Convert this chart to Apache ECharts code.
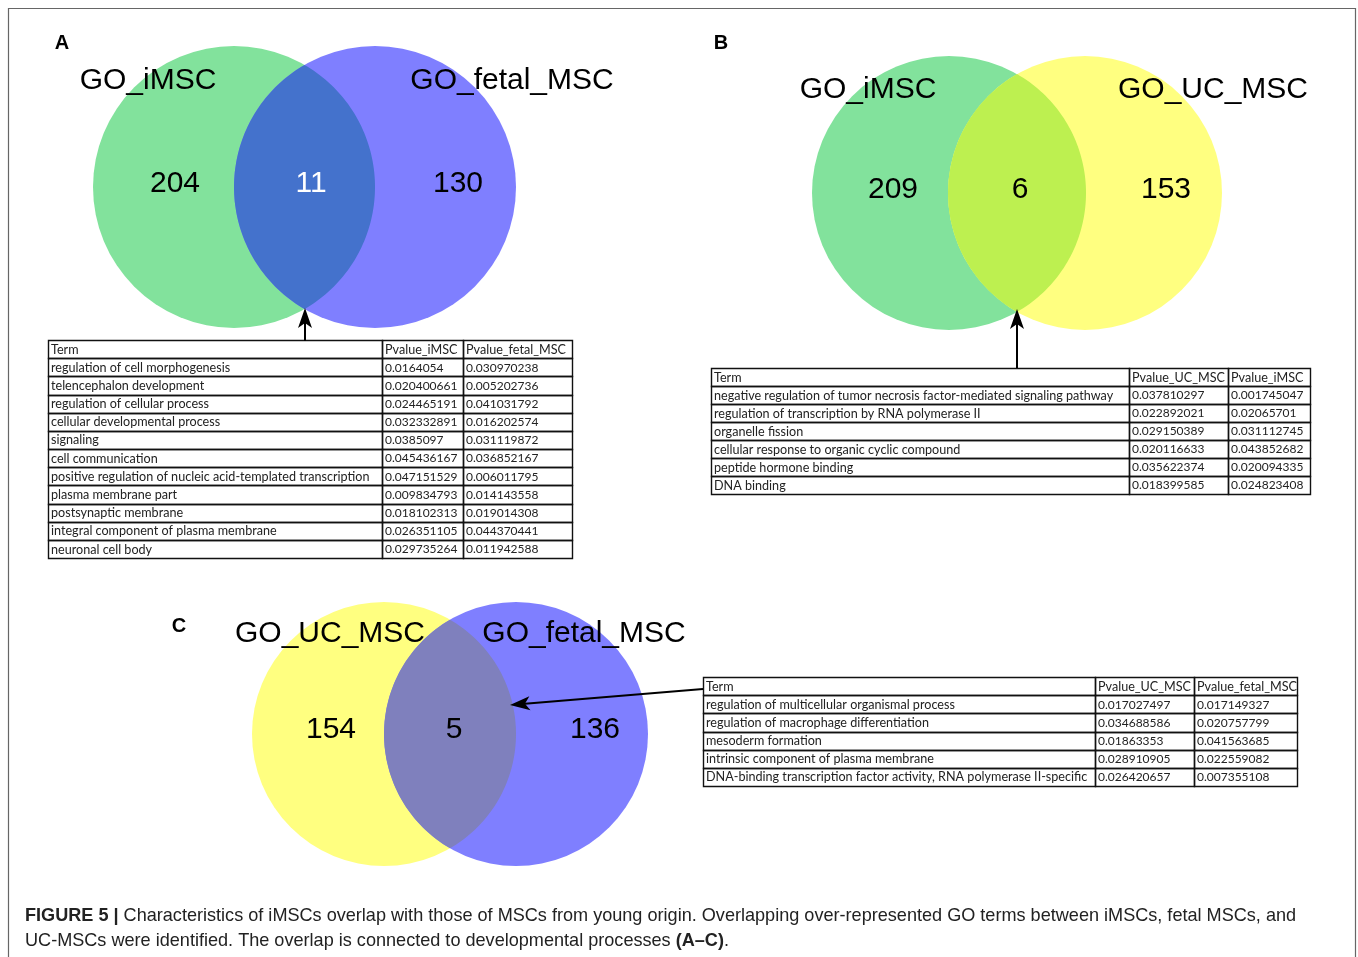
<!DOCTYPE html>
<html><head><meta charset="utf-8">
<script src="https://cdn.jsdelivr.net/npm/echarts@6/dist/echarts.min.js"></script>
<style>html,body{margin:0;padding:0;background:#fff}#c{width:1358px;height:957px}</style>
</head><body><div id="c"></div>
<script>
// ---------------- DATA ----------------
const setNamesA = ['GO_iMSC', 'GO_fetal_MSC'];
const countsA = [204, 11, 130];          // left only, overlap, right only
const setNamesB = ['GO_iMSC', 'GO_UC_MSC'];
const countsB = [209, 6, 153];
const setNamesC = ['GO_UC_MSC', 'GO_fetal_MSC'];
const countsC = [154, 5, 136];

const headerA = ['Term', 'Pvalue_iMSC', 'Pvalue_fetal_MSC'];
const termsA = ['regulation of cell morphogenesis', 'telencephalon development', 'regulation of cellular process',
  'cellular developmental process', 'signaling', 'cell communication',
  'positive regulation of nucleic acid-templated transcription', 'plasma membrane part',
  'postsynaptic membrane', 'integral component of plasma membrane', 'neuronal cell body'];
const pIMSC_A = [0.0164054, 0.020400661, 0.024465191, 0.032332891, 0.0385097, 0.045436167,
  0.047151529, 0.009834793, 0.018102313, 0.026351105, 0.029735264];
const pFetal_A = [0.030970238, 0.005202736, 0.041031792, 0.016202574, 0.031119872, 0.036852167,
  0.006011795, 0.014143558, 0.019014308, 0.044370441, 0.011942588];

const headerB = ['Term', 'Pvalue_UC_MSC', 'Pvalue_iMSC'];
const termsB = ['negative regulation of tumor necrosis factor-mediated signaling pathway',
  'regulation of transcription by RNA polymerase II', 'organelle fission',
  'cellular response to organic cyclic compound', 'peptide hormone binding', 'DNA binding'];
const pUC_B = [0.037810297, 0.022892021, 0.029150389, 0.020116633, 0.035622374, 0.018399585];
const pIMSC_B = [0.001745047, 0.02065701, 0.031112745, 0.043852682, 0.020094335, 0.024823408];

const headerC = ['Term', 'Pvalue_UC_MSC', 'Pvalue_fetal_MSC'];
const termsC = ['regulation of multicellular organismal process', 'regulation of macrophage differentiation',
  'mesoderm formation', 'intrinsic component of plasma membrane',
  'DNA-binding transcription factor activity, RNA polymerase II-specific'];
const pUC_C = [0.017027497, 0.034688586, 0.01863353, 0.028910905, 0.026420657];
const pFetal_C = [0.017149327, 0.020757799, 0.041563685, 0.022559082, 0.007355108];

// ---------------- LAYOUT / STYLE ----------------
const W = 1358, H = 957;
const SANS = '"Liberation Sans", Arial, sans-serif';
const TFONT = '12.6px Lato, "Liberation Sans", sans-serif';
const NFONT = '12px Lato, "Liberation Sans", sans-serif';
const GREEN = '#82e29c', BLUE = '#7f7fff', YELLOW = '#ffff80';

const panels = [
  { letter: 'A', letterXY: [62, 43], names: setNamesA, counts: countsA,
    fills: [GREEN, BLUE, '#4472cc'], countFill: ['#000', '#fff', '#000'],
    c1: [234, 187], c2: [375, 187], r: 141,
    nameXY: [[148, 81], [512, 81]], countXY: [[175, 184], [311, 184], [458, 184]],
    arrow: [[305, 341], [305, 308]] },
  { letter: 'B', letterXY: [721, 43], names: setNamesB, counts: countsB,
    fills: [GREEN, YELLOW, '#bdf050'], countFill: ['#000', '#000', '#000'],
    c1: [949, 193], c2: [1085, 193], r: 137,
    nameXY: [[868, 90], [1213, 90]], countXY: [[893, 190], [1020, 190], [1166, 190]],
    arrow: [[1017, 368], [1017, 309]] },
  { letter: 'C', letterXY: [179, 626], names: setNamesC, counts: countsC,
    fills: [YELLOW, BLUE, '#7f80bd'], countFill: ['#000', '#000', '#000'],
    c1: [384, 734], c2: [516, 734], r: 132,
    nameXY: [[330, 634], [584, 634]], countXY: [[331, 730], [454, 730], [595, 730]],
    arrow: [[703, 689], [510, 705]] }
];

function rowsOf(header, terms, a, b) {
  return [header].concat(terms.map((t, i) => [t, String(a[i]), String(b[i])]));
}
const tables = [
  { rows: rowsOf(headerA, termsA, pIMSC_A, pFetal_A), x: 48, y: 340, colW: [334, 81, 109], rowH: 18.17 },
  { rows: rowsOf(headerB, termsB, pUC_B, pIMSC_B), x: 711, y: 368, colW: [418, 99, 82], rowH: 18 },
  { rows: rowsOf(headerC, termsC, pUC_C, pFetal_C), x: 703, y: 677, colW: [392, 99, 103], rowH: 18.17 }
];

// ---------------- RENDERERS ----------------
function vennRender(p) {
  return function (params, api) {
    const i = params.dataIndex;
    const val = api.value(1);
    const P = (pt) => api.coord(pt);
    const c1 = P(p.c1), c2 = P(p.c2);
    const rpx = P([p.c1[0] + p.r, p.c1[1]])[0] - c1[0];
    const kids = [];
    if (i === 0 || i === 2) {
      const c = i === 0 ? c1 : c2;
      const k = i === 0 ? 0 : 1;
      kids.push({ type: 'circle', z2: 1 + k, shape: { cx: c[0], cy: c[1], r: rpx },
        style: { fill: p.fills[k] } });
      const nm = P(p.nameXY[k]);
      kids.push({ type: 'text', z2: 10, x: nm[0], y: nm[1],
        style: { text: p.names[k], font: '30px ' + SANS, fill: '#000', align: 'center', verticalAlign: 'middle' } });
    }
    if (i === 0) {
      const lt = P(p.letterXY);
      kids.push({ type: 'text', z2: 10, x: lt[0], y: lt[1],
        style: { text: p.letter, font: 'bold 20px ' + SANS, fill: '#000', align: 'center', verticalAlign: 'middle' } });
    }
    if (i === 1) {
      const d = c2[0] - c1[0];
      const h = Math.sqrt(rpx * rpx - (d / 2) * (d / 2));
      const a = Math.atan2(h, d / 2);
      const pts = [];
      const N = 80;
      for (let j = 0; j <= N; j++) {
        const t = (Math.PI + a) - (2 * a) * j / N;
        pts.push([c2[0] + rpx * Math.cos(t), c2[1] - rpx * Math.sin(t)]);
      }
      for (let j = 0; j <= N; j++) {
        const t = -a + (2 * a) * j / N;
        pts.push([c1[0] + rpx * Math.cos(t), c1[1] - rpx * Math.sin(t)]);
      }
      kids.push({ type: 'polygon', z2: 3, shape: { points: pts }, style: { fill: p.fills[2] } });
      const s = P(p.arrow[0]), e = P(p.arrow[1]);
      const dx = e[0] - s[0], dy = e[1] - s[1];
      const L = Math.hypot(dx, dy), ux = dx / L, uy = dy / L, nx = -uy, ny = ux;
      const HL = 20, HW = 7, NOTCH = 15;
      const notch = [e[0] - ux * NOTCH, e[1] - uy * NOTCH];
      kids.push({ type: 'line', z2: 11, shape: { x1: s[0], y1: s[1], x2: notch[0], y2: notch[1] },
        style: { stroke: '#000', lineWidth: 2 } });
      kids.push({ type: 'polygon', z2: 11, shape: { points: [
        e, [e[0] - ux * HL + nx * HW, e[1] - uy * HL + ny * HW], notch,
        [e[0] - ux * HL - nx * HW, e[1] - uy * HL - ny * HW]] }, style: { fill: '#000' } });
    }
    const cp = P(p.countXY[i]);
    kids.push({ type: 'text', z2: 10, x: cp[0], y: cp[1],
      style: { text: String(val), font: '30px ' + SANS, fill: p.countFill[i], align: 'center', verticalAlign: 'middle' } });
    return { type: 'group', children: kids };
  };
}

function tableRender(tb) {
  return function (params, api) {
    const i = params.dataIndex;
    const row = tb.rows[i];
    const kids = [];
    let x = tb.x;
    const y = tb.y + i * tb.rowH;
    for (let j = 0; j < row.length; j++) {
      const tl = api.coord([x, y]);
      const br = api.coord([x + tb.colW[j], y + tb.rowH]);
      kids.push({ type: 'rect', z2: 1, shape: { x: Math.round(tl[0]) + 0.5, y: Math.round(tl[1]) + 0.5,
          width: Math.round(br[0]) - Math.round(tl[0]), height: Math.round(br[1]) - Math.round(tl[1]) },
        style: { fill: null, stroke: '#111', lineWidth: 1.4 } });
      kids.push({ type: 'text', z2: 2, x: tl[0] + 3, y: (tl[1] + br[1]) / 2 + 0.5,
        style: { text: row[j], font: (i > 0 && j > 0) ? NFONT : TFONT, fill: '#222', align: 'left', verticalAlign: 'middle' } });
      x += tb.colW[j];
    }
    return { type: 'group', children: kids };
  };
}

const series = [];
panels.forEach((p) => {
  series.push({ type: 'custom', coordinateSystem: 'cartesian2d', renderItem: vennRender(p),
    data: p.counts.map((v, i) => [i, v]), silent: true, clip: false });
});
tables.forEach((tb) => {
  series.push({ type: 'custom', coordinateSystem: 'cartesian2d', renderItem: tableRender(tb),
    data: tb.rows.map((r, i) => [i]), silent: true, clip: false });
});

const chart = echarts.init(document.getElementById('c'), null, { renderer: 'canvas' });
chart.setOption({
  animation: false,
  backgroundColor: '#fff',
  grid: { left: 0, right: 0, top: 0, bottom: 0 },
  xAxis: { type: 'value', min: 0, max: W, show: false },
  yAxis: { type: 'value', min: 0, max: H, inverse: true, show: false },
  graphic: [
    { type: 'rect', shape: { x: 8.5, y: 8.5, width: 1347, height: 970 },
      style: { fill: null, stroke: '#666', lineWidth: 1.2 }, silent: true },
    { type: 'text', left: 25, top: 907, silent: true,
      style: { text: '{b|FIGURE 5 |} Characteristics of iMSCs overlap with those of MSCs from young origin. Overlapping over-represented GO terms between iMSCs, fetal MSCs, and',
        font: '18.1px ' + SANS, fill: '#222',
        rich: { b: { fontWeight: 'bold', fontSize: 18.1, fontFamily: SANS, fill: '#222' } } } },
    { type: 'text', left: 25, top: 932, silent: true,
      style: { text: 'UC-MSCs were identified. The overlap is connected to developmental processes {b|(A–C)}.',
        font: '18.1px ' + SANS, fill: '#222',
        rich: { b: { fontWeight: 'bold', fontSize: 18.1, fontFamily: SANS, fill: '#222' } } } }
  ],
  series: series
});
</script>
</body></html>
